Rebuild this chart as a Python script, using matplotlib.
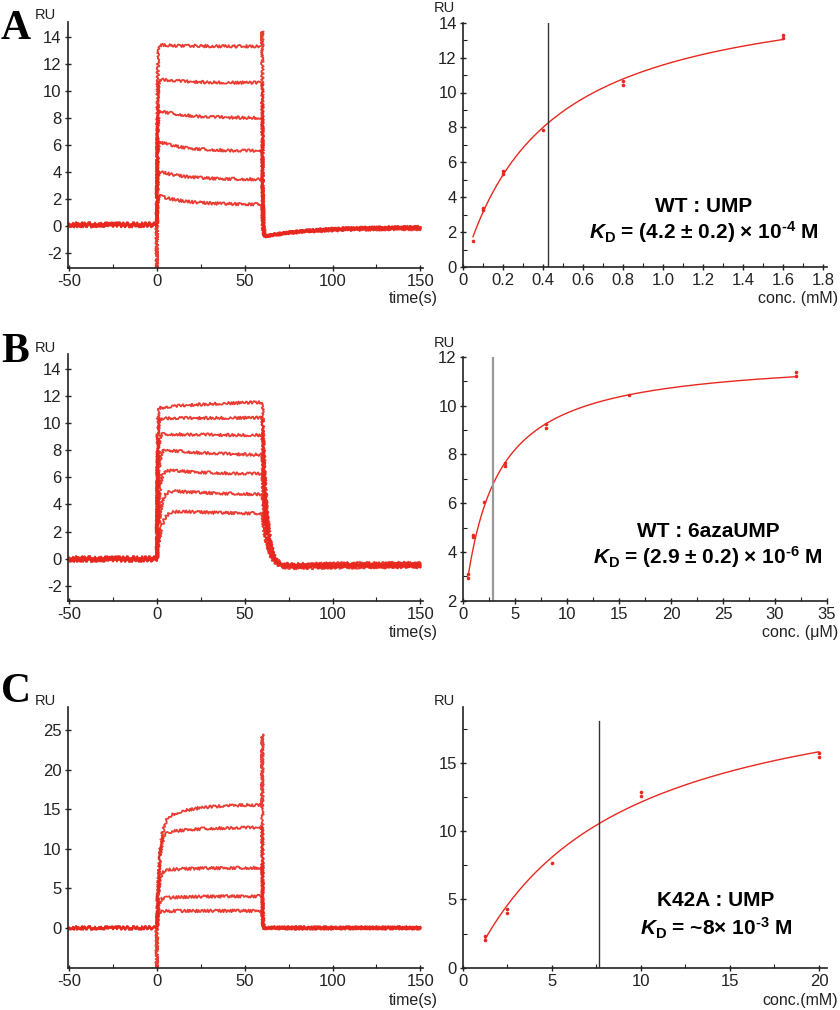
import numpy as np
import matplotlib
matplotlib.use("Agg")
import matplotlib.pyplot as plt
from matplotlib.ticker import MultipleLocator

plt.rcParams['font.family'] = ['Liberation Sans', 'DejaVu Sans']
plt.rcParams['axes.unicode_minus'] = False
plt.rcParams['mathtext.fontset'] = 'custom'
plt.rcParams['mathtext.rm'] = 'Liberation Sans:bold'
plt.rcParams['mathtext.it'] = 'Liberation Sans:bold:italic'
plt.rcParams['mathtext.bf'] = 'Liberation Sans:bold'

RED = '#e8281e'
W, H = 840, 1010

# ---- sensorgrams (left column) ----
# RU level right after injection start and at end of injection (t = 60 s)
sg_a_start = [2.3, 4.1, 6.3, 8.6, 10.9, 13.4]
sg_a_end = [1.6, 3.45, 5.55, 8.0, 10.6, 13.3]
sg_a_pre = [0.0, 0.05, 0.15, 0.2, 0.1, 0.05]
sg_a_post = [-0.05, -0.1, -0.15, -0.05, -0.2, -0.1]
sg_a_dip = -0.8
sg_a_spike = (-3.1, 14.4)

sg_b_start = [3.6, 5.1, 6.6, 8.1, 9.2, 10.35, 11.1]
sg_b_end = [3.3, 4.7, 6.2, 7.6, 9.1, 10.4, 11.6]
sg_b_tau_on = [2.5, 1.8, 1.2, 0.8, 0.5, 0.35, 0.25]
sg_b_pre = [-0.1, 0.0, 0.1, -0.05, 0.05, -0.15, 0.0]
sg_b_post = [-0.3, -0.5, -0.4, -0.6, -0.35, -0.45, -0.55]

sg_c_start = [2.1, 3.7, 7.2, 11.8, 13.4]
sg_c_end = [2.15, 4.0, 7.6, 12.7, 15.6]
sg_c_tau_on = [0.6, 0.8, 1.0, 1.3, 1.6]
sg_c_pre = [0.0, -0.1, 0.05, -0.05, 0.0]
sg_c_post = [0.0, -0.1, 0.05, -0.05, 0.0]
sg_c_spike = (-6.0, 24.5)

# ---- steady state binding (right column) ----
conc_a = [0.05, 0.1, 0.1, 0.2, 0.2, 0.4, 0.8, 0.8, 1.6, 1.6]
ru_a = [1.5, 3.4, 3.25, 5.5, 5.35, 7.85, 10.65, 10.45, 13.3, 13.1]
kd_a, rmax_a, r0_a = 0.425, 16.5, 0.0

conc_b = [0.5, 0.5, 1, 1, 2, 4, 4, 8, 8, 16, 32, 32]
ru_b = [3.08, 2.92, 4.69, 4.62, 6.06, 7.63, 7.53, 9.23, 9.06, 10.42, 11.39, 11.21]
kd_b, rmax_b, r0_b = 2.86, 10.6, 1.45

conc_c = [1.25, 1.25, 2.5, 2.5, 5, 10, 10, 20, 20]
ru_c = [2.3, 2.0, 4.3, 3.97, 7.68, 12.88, 12.56, 15.7, 15.4]
kd_c, rmax_c, r0_c = 7.66, 23.5, -1.19


def sensorgram(pre, r_start, r_end, tau_on, tau_slow, tau_off, post, dip, tau_rec):
    t_pre = np.arange(-50, 0, 0.1)
    t_on = np.arange(0, 60, 0.05)
    t_off = np.arange(60, 150.05, 0.05)
    level = r_end + (r_start - r_end) * np.exp(-t_on / tau_slow)
    y_on = pre + (level - pre) * (1 - np.exp(-t_on / tau_on))
    r60 = y_on[-1]
    base = post + (dip - post) * np.exp(-(t_off - 60) / tau_rec)
    y_off = base + (r60 - base) * np.exp(-(t_off - 60) / tau_off)
    t = np.concatenate([t_pre, t_on, t_off])
    y = np.concatenate([np.full(len(t_pre), pre), y_on, y_off])
    return t, y, len(t_pre), len(t_pre) + len(t_on)


def noisy(line):
    line.set_sketch_params(scale=1.4, length=2.0, randomness=3.0)


def style_axes(ax):
    for s in ['top', 'right']:
        ax.spines[s].set_visible(False)
    for s in ['left', 'bottom']:
        ax.spines[s].set_linewidth(1.2)
        ax.spines[s].set_color('#222222')
    ax.tick_params(which='major', direction='inout', length=5, width=1,
                   labelsize=12, colors='#222222', pad=2)
    ax.tick_params(which='minor', direction='in', length=3, width=0.8, colors='#222222')


def fax(x0, y0, x1, y1):
    return fig.add_axes([x0 / W, 1 - y1 / H, (x1 - x0) / W, (y1 - y0) / H])


fig = plt.figure(figsize=(8.4, 10.1), dpi=100)

# ---------- A left ----------
ax = fax(68, 22, 423, 268)
for i in range(len(sg_a_end)):
    t, y, i0, i1 = sensorgram(sg_a_pre[i], sg_a_start[i], sg_a_end[i], 0.3, 15, 0.3,
                              sg_a_post[i], sg_a_dip, 25)
    if i == len(sg_a_end) - 1:
        y[i0] = sg_a_spike[0]
        y[i1] = sg_a_spike[1]
    ln, = ax.plot(t, y, color=RED, lw=1.3, alpha=0.9)
    noisy(ln)
ax.set_xlim(-50.6, 151.5)
ax.set_ylim(-3.1, 15.1)
ax.set_yticks(range(-2, 15, 2))
ax.set_xticks([-50, 0, 50, 100, 150])
ax.xaxis.set_minor_locator(MultipleLocator(25))
style_axes(ax)

# ---------- B left ----------
ax = fax(68, 354, 423, 600.7)
for i in range(len(sg_b_end)):
    t, y, i0, i1 = sensorgram(sg_b_pre[i], sg_b_start[i], sg_b_end[i], sg_b_tau_on[i], 30, 2.6,
                              sg_b_post[i], sg_b_post[i] - 0.15, 40)
    ln, = ax.plot(t, y, color=RED, lw=1.3, alpha=0.9)
    noisy(ln)
ax.set_xlim(-50.6, 151.5)
ax.set_ylim(-3.1, 15.1)
ax.set_yticks(range(-2, 15, 2))
ax.set_xticks([-50, 0, 50, 100, 150])
ax.xaxis.set_minor_locator(MultipleLocator(25))
style_axes(ax)

# ---------- C left ----------
ax = fax(68, 706.7, 423, 967.7)
for i in range(len(sg_c_end)):
    t, y, i0, i1 = sensorgram(sg_c_pre[i], sg_c_start[i], sg_c_end[i], sg_c_tau_on[i], 15, 0.2,
                              sg_c_post[i], sg_c_post[i], 10)
    if i == len(sg_c_end) - 1:
        y[i0] = sg_c_spike[0]
        y[i1] = sg_c_spike[1]
    ln, = ax.plot(t, y, color=RED, lw=1.3, alpha=0.9)
    noisy(ln)
ax.set_xlim(-50.6, 151.5)
ax.set_ylim(-5.06, 28)
ax.set_yticks(range(0, 26, 5))
ax.set_xticks([-50, 0, 50, 100, 150])
ax.xaxis.set_minor_locator(MultipleLocator(25))
style_axes(ax)


def binding(ax, conc, ru, kd, rmax, r0, line_color, line_w, line_top):
    c = np.linspace(min(conc), max(conc), 300)
    ax.plot(c, r0 + rmax * c / (kd + c), color=RED, lw=1.0)
    ax.plot(conc, ru, 'o', color=RED, ms=2.6, mew=0)
    ax.plot([kd, kd], [ax.get_ylim()[0], line_top], color=line_color, lw=line_w)


# ---------- A right ----------
ax = fax(463, 22.7, 827, 267)
ax.set_xlim(0, 1.82)
ax.set_ylim(0, 14)
binding(ax, conc_a, ru_a, kd_a, rmax_a, r0_a, '#333333', 1.0, 14)
ax.set_xticks(np.arange(0, 1.81, 0.2))
ax.set_xticklabels(['0', '0.2', '0.4', '0.6', '0.8', '1.0', '1.2', '1.4', '1.6', '1.8'])
ax.xaxis.set_minor_locator(MultipleLocator(0.1))
ax.yaxis.set_minor_locator(MultipleLocator(1))
style_axes(ax)

# ---------- B right ----------
ax = fax(463, 356.7, 827, 600.7)
ax.set_xlim(0, 35)
ax.set_ylim(2, 12)
binding(ax, conc_b, ru_b, kd_b, rmax_b, r0_b, '#999999', 1.6, 12)
ax.set_xticks(range(0, 36, 5))
ax.set_yticks(range(2, 13, 2))
ax.xaxis.set_minor_locator(MultipleLocator(2.5))
ax.yaxis.set_minor_locator(MultipleLocator(1))
style_axes(ax)

# ---------- C right ----------
ax = fax(463, 706.7, 827, 967.7)
ax.set_xlim(0, 20.45)
ax.set_ylim(0, 19.1)
binding(ax, conc_c, ru_c, kd_c, rmax_c, r0_c, '#333333', 1.0, 18.07)
ax.set_xticks(range(0, 21, 5))
ax.set_yticks(range(0, 16, 5))
ax.xaxis.set_minor_locator(MultipleLocator(2.5))
ax.yaxis.set_minor_locator(MultipleLocator(2.5))
style_axes(ax)

# ---------- text ----------
def ftext(x, y, s, **kw):
    fig.text(x / W, 1 - y / H, s, **kw)


for letter, yb in [('A', 39), ('B', 361.5), ('C', 702.5)]:
    ftext(1, yb, letter, family='Liberation Serif', fontweight='bold', fontsize=30,
          ha='left', va='baseline')

for x, y in [(35, 19), (35, 351.5), (35, 705), (434, 12), (434, 346.5), (434, 705)]:
    ftext(x, y, 'RU', fontsize=10.5, ha='left', va='baseline', color='#222222')

for y in [299, 632, 1000]:
    ftext(438, y, 'time(s)', fontsize=11.5, ha='right', va='center', color='#222222')

ftext(838, 299, 'conc. (mM)', fontsize=11.5, ha='right', va='center', color='#222222')
ftext(838, 632, 'conc. (\u03bcM)', fontsize=11.5, ha='right', va='center', color='#222222')
ftext(838, 1000, 'conc.(mM)', fontsize=11.5, ha='right', va='center', color='#222222')

ann = [
    (704, 206.7, 231.7, 'WT : UMP', r'$K_{\rm D}$ = (4.2 ± 0.2) × 10$^{\text{-4}}$ M'),
    (708, 531.7, 556.7, 'WT : 6azaUMP', r'$K_{\rm D}$ = (2.9 ± 0.2) × 10$^{\text{-6}}$ M'),
    (716, 900, 928, 'K42A : UMP', r'$K_{\rm D}$ = ~8× 10$^{\text{-3}}$ M'),
]
for x, y1, y2, l1, l2 in ann:
    ftext(x, y1, l1, fontsize=15, fontweight='bold', ha='center', va='center')
    ftext(x, y2, l2, fontsize=15, fontweight='bold', ha='center', va='center')

fig.savefig('out.png', dpi=100)
